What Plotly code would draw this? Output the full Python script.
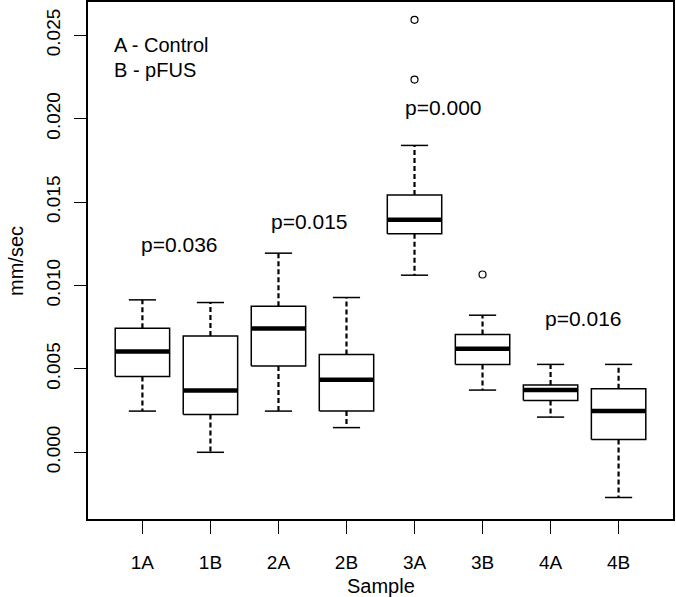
import plotly.graph_objects as go

samples = ["1A", "1B", "2A", "2B", "3A", "3B", "4A", "4B"]
lower_whisker = [0.00247, 0.00000, 0.00247, 0.00148, 0.01062, 0.00373, 0.00211, -0.00271]
q1 = [0.00455, 0.00226, 0.00517, 0.00247, 0.01310, 0.00527, 0.00311, 0.00076]
median = [0.00605, 0.00371, 0.00743, 0.00435, 0.01395, 0.00621, 0.00373, 0.00247]
q3 = [0.00744, 0.00697, 0.00876, 0.00587, 0.01543, 0.00707, 0.00403, 0.00381]
upper_whisker = [0.00914, 0.00898, 0.01194, 0.00928, 0.01840, 0.00822, 0.00527, 0.00527]
outlier_sample = ["3A", "3A", "3B"]
outlier_value = [0.02593, 0.02235, 0.01066]

p_labels = ["p=0.036", "p=0.015", "p=0.000", "p=0.016"]
p_x = [1.55, 3.46, 5.43, 7.49]
p_y = [0.01243, 0.01383, 0.02066, 0.00800]

legend_lines = ["A - Control", "B - pFUS"]

y_ticks = [0.000, 0.005, 0.010, 0.015, 0.020, 0.025]
y_ticktext = ["0.000", "0.005", "0.010", "0.015", "0.020", "0.025"]

FONT = "Liberation Sans, Arial, sans-serif"
FS_TICK = 19
FS_TEXT = 21
FS_LEG = 20
FS_TITLE = 20
HALF_BOX = 0.4
HALF_CAP = 0.2

pos = list(range(1, len(samples) + 1))

box_x, box_y = [], []
med_x, med_y = [], []
wh_x, wh_y = [], []
cap_x, cap_y = [], []
for i, p in enumerate(pos):
    box_x += [p - HALF_BOX, p + HALF_BOX, p + HALF_BOX, p - HALF_BOX, p - HALF_BOX, None]
    box_y += [q1[i], q1[i], q3[i], q3[i], q1[i], None]
    med_x += [p - HALF_BOX, p + HALF_BOX, None]
    med_y += [median[i], median[i], None]
    wh_x += [p, p, None, p, p, None]
    wh_y += [q3[i], upper_whisker[i], None, q1[i], lower_whisker[i], None]
    cap_x += [p - HALF_CAP, p + HALF_CAP, None, p - HALF_CAP, p + HALF_CAP, None]
    cap_y += [upper_whisker[i], upper_whisker[i], None, lower_whisker[i], lower_whisker[i], None]

fig = go.Figure()
fig.add_trace(go.Scatter(x=wh_x, y=wh_y, mode="lines",
                         line=dict(color="black", width=2.2, dash="5px,3px"),
                         hoverinfo="skip", showlegend=False))
fig.add_trace(go.Scatter(x=cap_x, y=cap_y, mode="lines",
                         line=dict(color="black", width=1.5),
                         hoverinfo="skip", showlegend=False))
fig.add_trace(go.Scatter(x=box_x, y=box_y, mode="lines", fill="toself", fillcolor="white",
                         line=dict(color="black", width=1.5),
                         hoverinfo="skip", showlegend=False))
fig.add_trace(go.Scatter(x=med_x, y=med_y, mode="lines",
                         line=dict(color="black", width=4.5),
                         hoverinfo="skip", showlegend=False))
fig.add_trace(go.Scatter(x=[samples.index(s) + 1 for s in outlier_sample], y=outlier_value,
                         mode="markers",
                         marker=dict(symbol="circle-open", size=7, color="black", line=dict(width=1.2)),
                         hoverinfo="skip", showlegend=False))

for t, x, y in zip(p_labels, p_x, p_y):
    fig.add_annotation(x=x, y=y, text=t, showarrow=False, xref="x", yref="y",
                       font=dict(family=FONT, size=FS_TEXT, color="black"),
                       xanchor="center", yanchor="middle")

for k, t in enumerate(legend_lines):
    fig.add_annotation(x=0.041, y=0.916 - k * 0.048, xref="paper", yref="paper", text=t,
                       showarrow=False, xanchor="left", yanchor="middle",
                       font=dict(family=FONT, size=FS_LEG, color="black"))

fig.add_annotation(x=0.5, y=-0.129, xref="paper", yref="paper", text="Sample",
                   showarrow=False, xanchor="center", yanchor="middle",
                   font=dict(family=FONT, size=FS_TITLE, color="black"))
fig.add_annotation(x=-0.124, y=0.5, xref="paper", yref="paper", text="mm/sec",
                   showarrow=False, xanchor="center", yanchor="middle", textangle=-90,
                   font=dict(family=FONT, size=FS_TITLE, color="black"))

fig.update_layout(
    width=676, height=597,
    margin=dict(l=88, r=3, t=2, b=78, autoexpand=False),
    paper_bgcolor="white", plot_bgcolor="white",
    font=dict(family=FONT, size=FS_TICK, color="black"),
    showlegend=False,
)
fig.update_xaxes(range=[0.2, 8.8], tickmode="array", tickvals=pos, ticktext=samples,
                 ticks="outside", ticklen=13, tickwidth=1.2, tickcolor="black",
                 showline=True, linecolor="black", linewidth=1.5, mirror=True,
                 showgrid=False, zeroline=False, ticklabelstandoff=12, automargin=False)
fig.update_yaxes(range=[-0.0040, 0.0270], tickmode="array", tickvals=y_ticks, ticktext=y_ticktext,
                 tickangle=-90,
                 ticks="outside", ticklen=12, tickwidth=1.2, tickcolor="black",
                 showline=True, linecolor="black", linewidth=1.5, mirror=True,
                 showgrid=False, zeroline=False, ticklabelstandoff=7, automargin=False)

fig.write_html("out.html", config={"displayModeBar": False},
               post_script="document.body.style.margin='0';document.body.style.overflow='hidden';")
